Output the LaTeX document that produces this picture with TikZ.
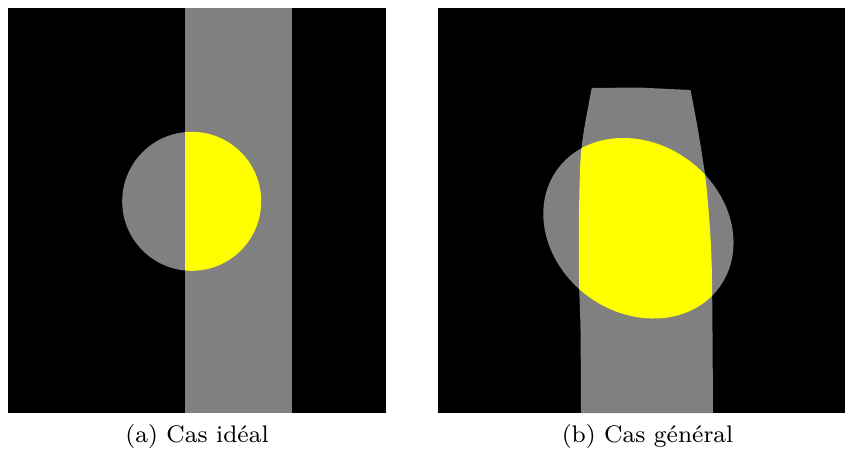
\documentclass[tikz,border=0pt]{standalone}
\definecolor{bandgray}{RGB}{128,128,128}
\definecolor{spot}{RGB}{255,255,0}
\tikzset{
  caption/.style={anchor=base, inner sep=0pt, font=\fontsize{8}{10}\selectfont, scale=3, transform shape},
  spotshape/.style={shift={(638.4,228.25)}, rotate=-35.9},
}
\begin{document}
\begin{tikzpicture}[x=1pt,y=-1pt]
\useasboundingbox (0,0) rectangle (845,453);
\fill[white] (0,0) rectangle (845,453);
% ---------- (a) ideal case ----------
\fill[black] (8,8) rectangle (386,413);
\fill[bandgray] (185,8) rectangle (291.5,413);
\fill[bandgray] (191.7,201.3) circle[radius=69.5];
\begin{scope}
  \clip (185,8) rectangle (291.5,413);
  \fill[spot] (191.7,201.3) circle[radius=69.5];
\end{scope}
\node[caption] (capa) at (197,442.5) {(a) Cas idéal};
% ---------- (b) general case ----------
\fill[black] (438,8) rectangle (845,413);
\def\bandpath{plot[smooth] coordinates {(581,413) (580.5,330) (579,280) (579,215) (580.5,160) (584,130) (591.7,88)} -- (638,87.5) -- (690.5,90) -- plot[smooth] coordinates {(690.5,90) (698,130) (705.7,180) (710,230) (712,280) (713,413)} -- cycle}
\fill[bandgray, spotshape] (0,0) ellipse[x radius=100.2, y radius=84.6];
\fill[bandgray] \bandpath;
\begin{scope}
  \clip \bandpath;
  \fill[spot, spotshape] (0,0) ellipse[x radius=100.2, y radius=84.6];
\end{scope}
\node[caption] (capb) at (647.5,442.5) {(b) Cas général};
\end{tikzpicture}
\end{document}
